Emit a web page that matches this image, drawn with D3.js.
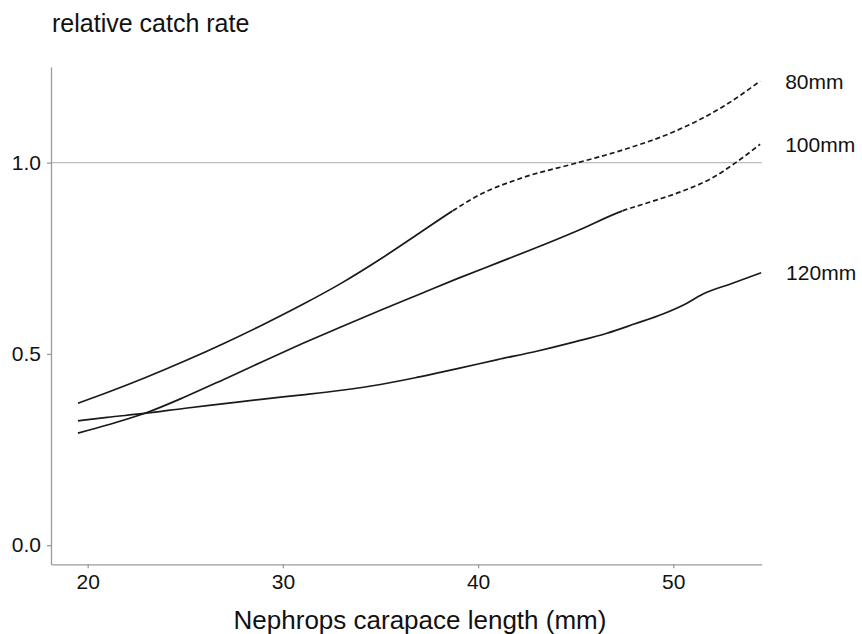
<!DOCTYPE html>
<html>
<head>
<meta charset="utf-8">
<script src="https://cdn.jsdelivr.net/npm/d3@7"></script>
<style>
  html, body { margin: 0; padding: 0; background: #fff; }
  svg { display: block; font-family: "Liberation Sans", Arial, sans-serif; }
</style>
</head>
<body>
<svg id="chart" width="862" height="634"></svg>
<script>
// ---- data ----
const seriesNames = ["80mm", "100mm", "120mm"];

const x80  = [19.5, 21, 23, 25, 27, 29, 31, 33, 35, 37, 38.7, 40, 42.3, 44.9, 47.4, 50, 52.6, 54.45];
const y80  = [0.371, 0.399, 0.439, 0.482, 0.528, 0.577, 0.629, 0.685, 0.748, 0.816, 0.874, 0.914, 0.961, 0.997, 1.033, 1.080, 1.148, 1.213];

const x100 = [19.5, 21, 23, 25, 27, 29, 31, 33, 35, 37, 39, 41, 43, 45, 47.4, 49, 50.5, 52, 53.2, 54.45];
const y100 = [0.293, 0.314, 0.346, 0.388, 0.434, 0.481, 0.527, 0.571, 0.614, 0.656, 0.698, 0.738, 0.778, 0.820, 0.874, 0.900, 0.926, 0.960, 1.000, 1.048];

const x120 = [19.5, 21, 23, 25, 27, 29, 31, 33, 35, 37, 39, 41, 43, 45, 46.6, 48, 49.5, 50.6, 51.5, 53, 54.5];
const y120 = [0.325, 0.334, 0.345, 0.358, 0.370, 0.382, 0.393, 0.405, 0.420, 0.440, 0.462, 0.485, 0.507, 0.532, 0.554, 0.578, 0.605, 0.630, 0.656, 0.684, 0.712];

// x value from which each curve is drawn dashed (null = solid throughout)
const dashFrom = [38.7, 47.4, null];

const xTicks = [20, 30, 40, 50];
const yTicks = [0.0, 0.5, 1.0];
const refLine = 1.0;

const yTitle = "relative catch rate";
const xTitle = "Nephrops carapace length (mm)";

// ---- layout ----
const svg = d3.select("#chart");
const mLeft = 51, mRight = 761.7, mTop = 67, mBottom = 564.3;

const x = d3.scaleLinear().domain([18.12, 54.53]).range([mLeft, mRight]);
const y = d3.scaleLinear().domain([-0.05, 1.25]).range([mBottom, mTop]);

const axisColor = "#9a9a9a";
const lineColor = "#1a1a1a";

// reference line at 1.0
svg.append("line")
  .attr("x1", x.range()[0]).attr("x2", x.range()[1])
  .attr("y1", y(refLine)).attr("y2", y(refLine))
  .attr("stroke", "#bdbdbd").attr("stroke-width", 1.2);

// axes
const xAxis = svg.append("g")
  .attr("transform", `translate(0,${mBottom})`)
  .call(d3.axisBottom(x).tickValues(xTicks).tickFormat(d3.format("d")).tickSize(4).tickSizeOuter(0).tickPadding(6));
const yAxis = svg.append("g")
  .attr("transform", `translate(${mLeft},0)`)
  .call(d3.axisLeft(y).tickValues(yTicks).tickFormat(d3.format(".1f")).tickSize(4).tickSizeOuter(0).tickPadding(6));

[xAxis, yAxis].forEach(g => {
  g.select(".domain").attr("stroke", axisColor).attr("stroke-width", 1.3);
  g.selectAll(".tick line").attr("stroke", axisColor).attr("stroke-width", 1.3);
  g.selectAll(".tick text").attr("fill", "#111").style("font-size", "21px")
    .style("font-family", '"Liberation Sans", Arial, sans-serif');
});

// curves: one continuous curve per series, split into solid / dashed parts by clipping
const xs = [x80, x100, x120];
const ys = [y80, y100, y120];
const line = d3.line().x(d => x(d[0])).y(d => y(d[1])).curve(d3.curveMonotoneX);
const defs = svg.append("defs");

seriesNames.forEach((name, i) => {
  const pts = xs[i].map((v, j) => [v, ys[i][j]]);
  const cut = dashFrom[i];
  const d = line(pts);
  if (cut == null) {
    svg.append("path").attr("d", d)
      .attr("fill", "none").attr("stroke", lineColor).attr("stroke-width", 1.7);
  } else {
    const cx = x(cut);
    defs.append("clipPath").attr("id", "solid" + i)
      .append("rect").attr("x", 0).attr("y", 0).attr("width", cx).attr("height", 634);
    defs.append("clipPath").attr("id", "dash" + i)
      .append("rect").attr("x", cx).attr("y", 0).attr("width", 862 - cx).attr("height", 634);
    svg.append("path").attr("d", d).attr("clip-path", `url(#solid${i})`)
      .attr("fill", "none").attr("stroke", lineColor).attr("stroke-width", 1.7);
    const full = svg.append("path").attr("d", d).attr("fill", "none").attr("stroke", lineColor)
      .attr("stroke-width", 1.7).attr("clip-path", `url(#dash${i})`);
    // start the dash pattern exactly at the cut
    const node = full.node();
    let lo = 0, hi = node.getTotalLength();
    for (let k = 0; k < 30; k++) {
      const mid = (lo + hi) / 2;
      if (node.getPointAtLength(mid).x < cx) lo = mid; else hi = mid;
    }
    full.attr("stroke-dasharray", "5,3").attr("stroke-dashoffset", -lo);
  }
  const last = pts[pts.length - 1];
  svg.append("text")
    .attr("x", x(last[0]) + 25)
    .attr("y", y(last[1]))
    .attr("dy", "0.36em")
    .attr("fill", "#111")
    .style("font-size", "21px")
    .text(name);
});

// titles
svg.append("text").attr("x", 52).attr("y", 32)
  .attr("fill", "#111").style("font-size", "25px").text(yTitle);
svg.append("text").attr("x", 420).attr("y", 629).attr("text-anchor", "middle")
  .attr("fill", "#111").style("font-size", "26px").text(xTitle);
</script>
</body>
</html>
